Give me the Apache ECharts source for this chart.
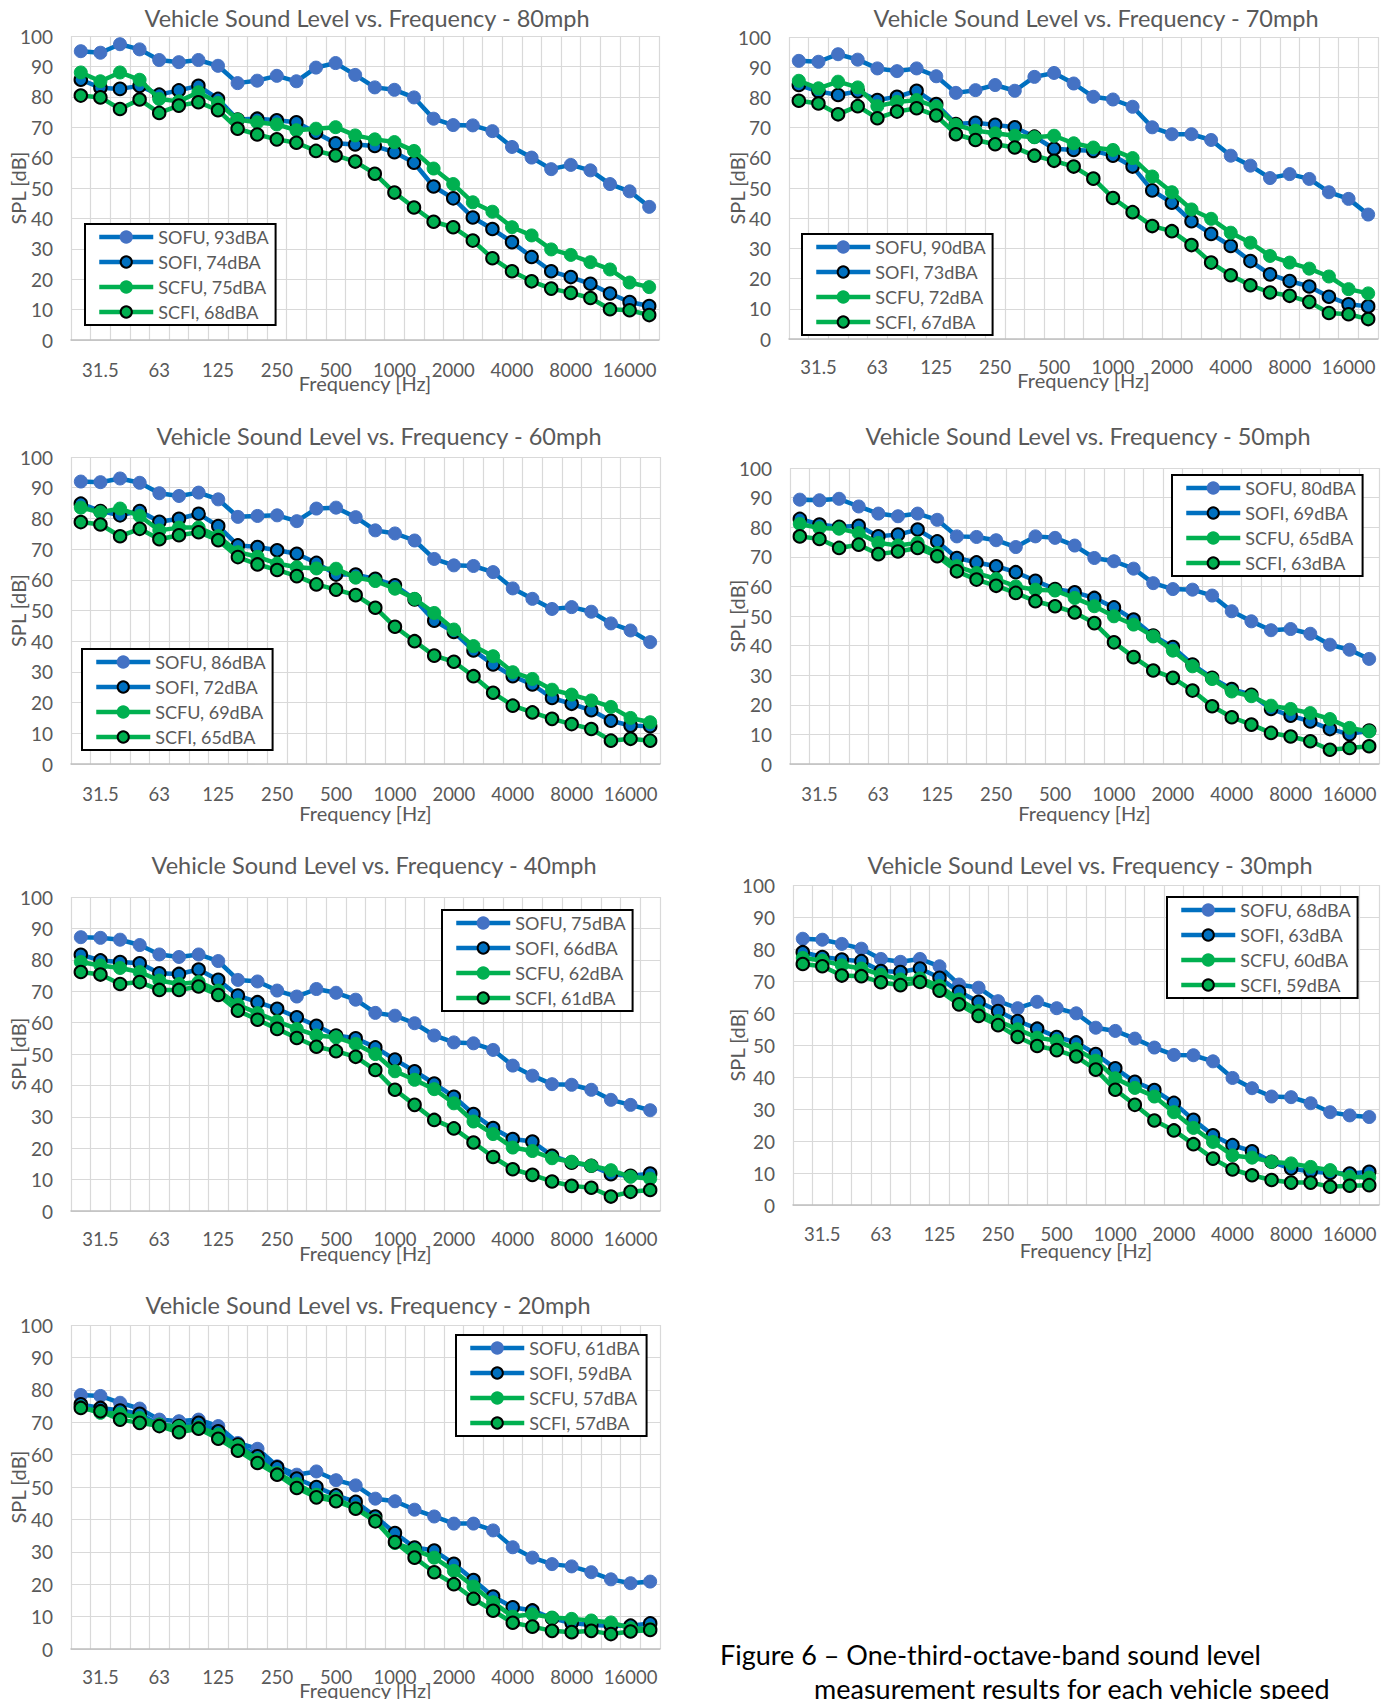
<!DOCTYPE html>
<html>
<head>
<meta charset="utf-8">
<title>Vehicle Sound Level vs. Frequency</title>
<script src="https://cdn.jsdelivr.net/npm/echarts@6/dist/echarts.min.js"></script>
<style>
  html, body { margin: 0; padding: 0; background: #ffffff; }
  #chart { width: 1388px; height: 1699px; }
</style>
</head>
<body>
<div id="chart"></div>
<script>
// One-third-octave band centre frequencies [Hz]
const FREQ_BANDS = ['25', '31.5', '40', '50', '63', '80', '100', '125', '160', '200',
  '250', '315', '400', '500', '630', '800', '1000', '1250', '1600', '2000',
  '2500', '3150', '4000', '5000', '6300', '8000', '10000', '12500', '16000', '20000'];

const SPEEDS = ['80mph', '70mph', '60mph', '50mph', '40mph', '30mph', '20mph'];
const CONFIGS = ['SOFU', 'SOFI', 'SCFU', 'SCFI'];

// Overall A-weighted levels [dBA] in the order SOFU, SOFI, SCFU, SCFI
const dba80 = [93, 74, 75, 68];
const dba70 = [90, 73, 72, 67];
const dba60 = [86, 72, 69, 65];
const dba50 = [80, 69, 65, 63];
const dba40 = [75, 66, 62, 61];
const dba30 = [68, 63, 60, 59];
const dba20 = [61, 59, 57, 57];

// Band levels SPL [dB], 80 mph
const sofu80 = [95.0, 94.5, 97.3, 95.6, 92.1, 91.4, 92.1, 90.2, 84.5, 85.3, 86.9, 85.1, 89.6, 91.1, 87.2, 83.1, 82.3, 79.8, 72.8, 70.7, 70.6, 68.7, 63.5, 60.0, 56.2, 57.6, 55.8, 51.3, 48.9, 43.8];
const sofi80 = [85.6, 83.0, 82.6, 83.6, 80.7, 82.1, 83.6, 79.3, 72.5, 72.8, 72.3, 71.6, 68.2, 64.7, 64.3, 63.8, 61.8, 58.3, 50.5, 46.6, 40.3, 36.5, 32.2, 27.3, 22.6, 20.7, 18.5, 15.3, 12.5, 11.2];
const scfu80 = [88.0, 85.1, 88.0, 85.6, 79.3, 78.5, 81.5, 78.0, 72.5, 71.6, 70.9, 69.0, 69.5, 70.0, 67.3, 66.0, 65.1, 62.2, 56.4, 51.3, 45.3, 42.2, 37.1, 34.4, 29.8, 28.0, 25.6, 23.2, 18.9, 17.4];
const scfi80 = [80.4, 79.8, 76.0, 79.1, 74.7, 77.1, 78.2, 75.6, 69.5, 67.6, 66.0, 64.9, 62.2, 60.7, 58.7, 54.7, 48.5, 43.6, 38.9, 37.1, 32.7, 26.9, 22.6, 19.3, 16.9, 15.5, 13.8, 10.1, 9.8, 8.2];

// 70 mph
const sofu70 = [92.1, 91.8, 94.3, 92.5, 89.6, 88.7, 89.6, 87.0, 81.5, 82.4, 84.1, 82.2, 86.8, 88.1, 84.6, 80.2, 79.3, 76.9, 70.1, 67.8, 67.8, 65.9, 60.7, 57.4, 53.3, 54.6, 53.0, 48.6, 46.4, 41.2];
const sofi70 = [84.1, 82.0, 80.8, 82.0, 79.1, 80.2, 82.2, 77.8, 71.2, 71.6, 70.9, 70.1, 67.0, 63.0, 62.6, 62.3, 60.7, 57.1, 49.2, 45.1, 39.0, 34.8, 30.8, 25.8, 21.4, 19.2, 17.4, 14.0, 11.5, 10.8];
const scfu70 = [85.5, 83.0, 85.2, 83.3, 77.1, 78.5, 79.1, 76.9, 70.9, 69.0, 68.1, 67.3, 66.8, 67.3, 64.8, 63.4, 62.6, 59.9, 53.8, 48.6, 42.9, 39.8, 35.2, 31.9, 27.5, 25.3, 23.3, 20.7, 16.5, 15.1];
const scfi70 = [78.9, 78.0, 74.4, 77.1, 73.1, 75.3, 76.4, 74.0, 67.8, 65.9, 64.5, 63.4, 60.7, 59.0, 57.1, 53.1, 46.7, 42.0, 37.4, 35.7, 31.1, 25.3, 21.1, 17.8, 15.4, 14.3, 12.3, 8.6, 8.2, 6.6];

// 60 mph
const sofu60 = [92.0, 91.8, 93.0, 91.6, 88.2, 87.3, 88.4, 86.2, 80.5, 80.8, 81.0, 79.1, 83.2, 83.5, 80.4, 76.1, 75.1, 72.8, 66.8, 64.7, 64.5, 62.5, 57.2, 53.8, 50.5, 51.1, 49.6, 45.8, 43.5, 39.7];
const sofi60 = [84.8, 82.4, 81.0, 82.4, 78.9, 79.9, 81.5, 77.5, 71.2, 70.7, 69.6, 68.5, 65.5, 61.7, 61.7, 60.3, 58.2, 53.6, 46.7, 43.0, 37.0, 32.4, 28.6, 25.9, 21.5, 19.6, 17.5, 14.1, 12.5, 12.3];
const scfu60 = [83.5, 82.0, 83.2, 80.8, 76.1, 77.0, 77.0, 74.2, 69.0, 67.5, 65.3, 64.1, 63.7, 63.6, 60.7, 59.6, 57.1, 53.8, 49.2, 43.8, 38.4, 35.1, 29.9, 27.7, 24.2, 22.6, 20.7, 18.6, 15.0, 13.6];
const scfi60 = [78.8, 78.0, 74.2, 76.6, 73.2, 74.5, 75.5, 72.9, 67.4, 65.0, 63.2, 61.2, 58.5, 56.8, 55.0, 50.9, 44.7, 40.0, 35.3, 33.3, 28.6, 23.2, 19.0, 16.8, 14.7, 13.0, 11.4, 7.6, 8.2, 7.6];

// 50 mph
const sofu50 = [89.3, 89.1, 89.6, 87.0, 84.6, 83.7, 84.6, 82.5, 76.9, 76.7, 75.6, 73.3, 76.9, 76.4, 73.8, 69.6, 68.5, 66.0, 61.1, 59.1, 58.9, 56.9, 51.6, 48.2, 45.2, 45.6, 44.0, 40.3, 38.6, 35.5];
const sofi50 = [82.8, 80.9, 80.1, 80.5, 76.9, 77.5, 79.2, 75.2, 69.6, 68.1, 66.8, 64.8, 61.9, 59.1, 58.0, 56.1, 52.9, 48.8, 43.4, 39.5, 33.6, 29.1, 25.3, 23.4, 18.6, 16.3, 14.4, 11.8, 10.1, 11.3];
const scfu50 = [81.1, 79.7, 79.5, 78.0, 74.7, 73.8, 74.7, 71.3, 66.8, 64.5, 62.5, 60.0, 58.9, 58.6, 56.1, 53.3, 49.9, 47.1, 43.1, 38.3, 33.0, 28.7, 24.5, 22.9, 19.7, 18.6, 17.2, 15.2, 12.2, 11.0];
const scfi50 = [76.9, 76.0, 73.0, 74.1, 70.9, 71.8, 73.0, 70.2, 65.1, 62.3, 60.2, 57.8, 55.0, 53.3, 51.2, 47.6, 41.1, 36.1, 31.6, 29.1, 24.8, 19.5, 15.8, 13.3, 10.5, 9.3, 7.7, 4.8, 5.4, 6.0];

// 40 mph
const sofu40 = [87.2, 87.0, 86.4, 84.7, 81.7, 80.9, 81.7, 79.6, 73.6, 73.1, 70.2, 68.3, 70.7, 69.5, 67.3, 63.1, 62.2, 59.8, 55.9, 53.7, 53.4, 51.3, 46.3, 43.1, 40.4, 40.2, 38.6, 35.4, 33.8, 32.1];
const sofi40 = [81.6, 79.8, 79.3, 78.9, 75.7, 75.5, 76.9, 73.6, 68.6, 66.5, 64.4, 61.7, 59.0, 55.9, 55.0, 52.1, 48.2, 44.5, 40.6, 36.4, 30.9, 26.4, 22.9, 22.1, 17.6, 15.4, 14.4, 11.7, 11.2, 11.9];
const scfu40 = [79.3, 78.2, 77.4, 76.1, 73.4, 72.3, 72.9, 70.2, 65.7, 63.0, 60.4, 58.0, 55.9, 55.3, 53.2, 50.0, 44.5, 41.8, 38.8, 34.3, 28.5, 24.5, 20.2, 19.1, 16.8, 15.7, 14.4, 13.0, 10.9, 10.3];
const scfi40 = [76.1, 75.3, 72.3, 72.9, 70.4, 70.4, 71.5, 68.8, 63.8, 60.9, 58.0, 55.1, 52.3, 50.9, 49.1, 44.9, 38.6, 33.8, 29.0, 26.3, 21.8, 17.2, 13.3, 11.5, 9.4, 8.0, 7.4, 4.6, 6.1, 6.7];

// 30 mph
const sofu30 = [83.2, 82.9, 81.6, 80.1, 76.9, 76.0, 76.9, 74.6, 68.9, 67.9, 63.7, 61.5, 63.5, 61.5, 59.9, 55.4, 54.4, 52.0, 49.2, 46.9, 46.8, 44.9, 39.7, 36.5, 33.9, 33.7, 31.8, 29.0, 28.0, 27.5];
const sofi30 = [79.0, 77.5, 76.7, 76.2, 73.1, 72.8, 73.9, 71.0, 66.6, 63.5, 60.6, 57.5, 55.1, 52.5, 50.8, 47.2, 42.7, 38.5, 35.9, 31.9, 26.6, 21.8, 18.7, 16.8, 13.5, 11.4, 10.5, 10.0, 9.8, 10.4];
const scfu30 = [77.2, 76.4, 74.9, 73.9, 72.0, 70.5, 70.8, 68.4, 64.2, 60.6, 57.5, 54.9, 52.3, 51.3, 48.7, 45.1, 39.6, 36.6, 33.9, 29.0, 24.1, 19.7, 15.5, 14.8, 13.5, 13.0, 11.9, 10.9, 8.8, 8.6];
const scfi30 = [75.3, 74.6, 71.7, 71.5, 69.6, 68.7, 69.7, 67.0, 62.7, 59.1, 56.2, 52.5, 49.7, 48.4, 46.4, 42.3, 36.0, 31.3, 26.4, 23.3, 19.0, 14.5, 11.1, 9.3, 7.8, 7.0, 7.0, 5.7, 6.0, 6.2];

// 20 mph
const sofu20 = [78.4, 78.1, 76.0, 74.2, 70.8, 70.3, 70.8, 68.8, 63.6, 61.8, 56.4, 53.8, 54.8, 52.1, 50.5, 46.4, 45.6, 43.0, 40.9, 38.7, 38.7, 36.6, 31.4, 28.2, 26.2, 25.5, 23.7, 21.5, 20.3, 20.8];
const sofi20 = [75.5, 74.4, 73.6, 72.6, 69.1, 68.8, 69.8, 67.2, 63.1, 59.5, 56.1, 52.6, 50.0, 47.4, 45.4, 40.9, 35.8, 31.3, 30.4, 26.3, 21.3, 16.2, 12.9, 11.9, 9.5, 8.0, 7.4, 7.2, 7.2, 7.9];
const scfu20 = [74.6, 72.9, 72.6, 71.3, 69.3, 68.5, 68.5, 66.2, 62.6, 58.5, 54.3, 50.9, 47.6, 46.4, 43.5, 39.9, 32.7, 30.6, 28.2, 24.1, 19.3, 14.4, 10.0, 10.7, 9.7, 9.3, 8.8, 8.2, 6.4, 6.2];
const scfi20 = [74.4, 73.4, 70.8, 69.8, 68.8, 66.9, 68.0, 64.9, 61.2, 57.4, 53.8, 49.7, 46.8, 45.6, 43.3, 39.4, 33.0, 28.2, 23.7, 20.0, 15.5, 11.8, 8.1, 6.9, 5.6, 5.2, 5.6, 4.6, 5.4, 5.9];

const Y_TICKS = { min: 0, max: 100, interval: 10 };

const CAPTION_LINES = [
  'Figure 6 \u2013 One-third-octave-band sound level',
  'measurement results for each vehicle speed'
];

// ---------------------------------------------------------------------------

const PANEL_DATA = [
  { speed: SPEEDS[0], dba: dba80, values: [sofu80, sofi80, scfu80, scfi80] },
  { speed: SPEEDS[1], dba: dba70, values: [sofu70, sofi70, scfu70, scfi70] },
  { speed: SPEEDS[2], dba: dba60, values: [sofu60, sofi60, scfu60, scfi60] },
  { speed: SPEEDS[3], dba: dba50, values: [sofu50, sofi50, scfu50, scfi50] },
  { speed: SPEEDS[4], dba: dba40, values: [sofu40, sofi40, scfu40, scfi40] },
  { speed: SPEEDS[5], dba: dba30, values: [sofu30, sofi30, scfu30, scfi30] },
  { speed: SPEEDS[6], dba: dba20, values: [sofu20, sofi20, scfu20, scfi20] }
];

// Panel placement on the page (pixels)
const PANEL_LAYOUT = [
  { grid: { left: 71, top: 36, width: 588, height: 304 }, titleX: 367, titleY: 18, legend: [85, 224], labelMargin: 20, xNameGap: 33, yNameX: 18 },
  { grid: { left: 789, top: 37, width: 589, height: 302 }, titleX: 1096, titleY: 18, legend: [802, 234], labelMargin: 18, xNameGap: 31, yNameX: 737 },
  { grid: { left: 71, top: 457, width: 589, height: 307 }, titleX: 379, titleY: 436, legend: [82, 649], labelMargin: 20, xNameGap: 39, yNameX: 18 },
  { grid: { left: 790, top: 468, width: 589, height: 296 }, titleX: 1088, titleY: 436, legend: [1172, 475], labelMargin: 20, xNameGap: 39, yNameX: 737 },
  { grid: { left: 71, top: 897, width: 589, height: 314 }, titleX: 374, titleY: 865, legend: [442, 910], labelMargin: 18, xNameGap: 32, yNameX: 18 },
  { grid: { left: 793, top: 885, width: 586, height: 320 }, titleX: 1090, titleY: 865, legend: [1167, 897], labelMargin: 19, xNameGap: 35, yNameX: 737 },
  { grid: { left: 71, top: 1325, width: 589, height: 324 }, titleX: 368, titleY: 1305, legend: [456, 1335], labelMargin: 18, xNameGap: 31, yNameX: 18 }
];

const FONT = 'Lato, "Open Sans", "Liberation Sans", sans-serif';
const TEXT_GREY = '#595959';
const BLUE = '#0070C0';
const LIGHT_BLUE = '#4472C4';
const GREEN = '#00B050';

// Marker / line look for each configuration
const SERIES_STYLE = {
  SOFU: { line: BLUE, fill: LIGHT_BLUE, border: LIGHT_BLUE, borderWidth: 1, size: 13 },
  SOFI: { line: BLUE, fill: BLUE, border: '#000000', borderWidth: 2, size: 12.5 },
  SCFU: { line: GREEN, fill: GREEN, border: GREEN, borderWidth: 1, size: 13 },
  SCFI: { line: GREEN, fill: GREEN, border: '#000000', borderWidth: 2, size: 12.5 }
};

const grids = [], xAxes = [], yAxes = [], series = [], legends = [], graphics = [];

PANEL_DATA.forEach((panel, p) => {
  const lay = PANEL_LAYOUT[p];
  grids.push(Object.assign({ containLabel: false, outerBoundsMode: 'none' }, lay.grid));

  xAxes.push({
    type: 'category',
    gridIndex: p,
    data: FREQ_BANDS,
    boundaryGap: true,
    name: 'Frequency [Hz]',
    nameLocation: 'middle',
    nameGap: lay.xNameGap,
    nameMoveOverlap: false,
    nameTextStyle: { fontFamily: FONT, fontSize: 20, color: TEXT_GREY },
    axisLine: { show: true, lineStyle: { color: '#bfbfbf', width: 1.5 } },
    axisTick: { show: false },
    axisLabel: {
      interval: (i) => i % 3 === 1,
      margin: lay.labelMargin,
      fontFamily: FONT, fontSize: 18.5, color: TEXT_GREY
    },
    splitLine: { show: true, interval: 0, lineStyle: { color: '#d9d9d9', width: 1.2 } }
  });

  yAxes.push({
    type: 'value',
    gridIndex: p,
    min: Y_TICKS.min, max: Y_TICKS.max, interval: Y_TICKS.interval,
    name: 'SPL [dB]',
    nameLocation: 'middle',
    nameGap: lay.grid.left - lay.yNameX - 10,
    nameMoveOverlap: false,
    nameTextStyle: { fontFamily: FONT, fontSize: 20, color: TEXT_GREY },
    axisLine: { show: false },
    axisTick: { show: false },
    axisLabel: { margin: 18, fontFamily: FONT, fontSize: 19, color: TEXT_GREY },
    splitLine: { show: true, lineStyle: { color: '#d9d9d9', width: 1.2 } }
  });

  const names = [];
  CONFIGS.forEach((cfg, k) => {
    const st = SERIES_STYLE[cfg];
    const name = cfg + ', ' + panel.dba[k] + 'dBA';
    names.push(name);
    series.push({
      type: 'line',
      name: name,
      xAxisIndex: p,
      yAxisIndex: p,
      data: panel.values[k],
      symbol: 'circle',
      symbolSize: st.size,
      showAllSymbol: true,
      smooth: false,
      lineStyle: { color: st.line, width: 4.5 },
      itemStyle: { color: st.fill, borderColor: st.border, borderWidth: st.borderWidth },
      emphasis: { disabled: true },
      z: 2 + k * 0.01
    });
  });

  legends.push({
    data: names,
    orient: 'vertical',
    left: lay.legend[0],
    top: lay.legend[1],
    backgroundColor: '#ffffff',
    borderColor: '#000000',
    borderWidth: 2,
    borderRadius: 0,
    padding: [3, 7, 3, 12],
    itemGap: 5,
    itemWidth: 54,
    itemHeight: 14,
    selectedMode: false,
    lineStyle: { width: 4.5 },
    textStyle: { fontFamily: FONT, fontSize: 18, color: TEXT_GREY, lineHeight: 20 }
  });

  graphics.push({
    type: 'text',
    x: lay.titleX,
    y: lay.titleY,
    style: {
      text: 'Vehicle Sound Level vs. Frequency - ' + panel.speed,
      font: '23.5px ' + FONT,
      fill: TEXT_GREY,
      align: 'center',
      verticalAlign: 'middle'
    }
  });
});

// Figure caption
graphics.push({
  type: 'text', x: 720, y: 1654,
  style: { text: CAPTION_LINES[0], font: '27px ' + FONT, fill: '#000000', align: 'left', verticalAlign: 'middle' }
});
graphics.push({
  type: 'text', x: 814, y: 1688,
  style: { text: CAPTION_LINES[1], font: '27px ' + FONT, fill: '#000000', align: 'left', verticalAlign: 'middle' }
});

const chart = echarts.init(document.getElementById('chart'), null, { renderer: 'svg', width: 1388, height: 1699 });
chart.setOption({
  animation: false,
  backgroundColor: '#ffffff',
  textStyle: { fontFamily: FONT },
  grid: grids,
  xAxis: xAxes,
  yAxis: yAxes,
  legend: legends,
  series: series,
  graphic: graphics
});
</script>
</body>
</html>
